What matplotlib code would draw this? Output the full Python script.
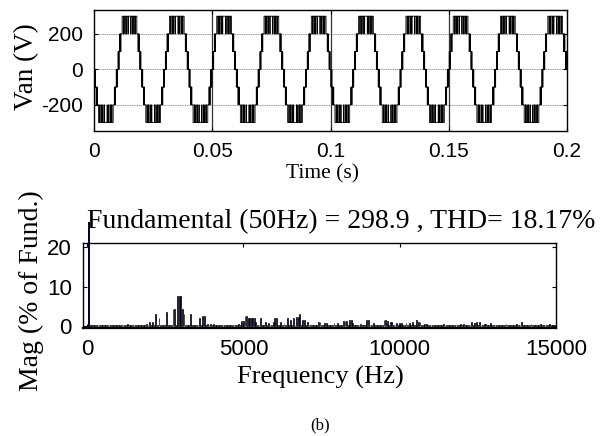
import numpy as np
import matplotlib
matplotlib.use("Agg")
import matplotlib.pyplot as plt
from matplotlib.patches import Rectangle

# ---------------- data ----------------
f0 = 50.0                      # fundamental frequency (Hz)
t_end = 0.2                    # simulated time (s)
# staircase/PWM switching pattern of the first quarter of a positive half cycle
# (edge angle in degrees, level in V after that edge), mirrored for the 2nd quarter
quarter_edges_deg = [0, 3, 5, 7, 9, 11, 16, 18, 21, 23, 25, 34, 43, 46, 55, 57, 67, 68.5, 79, 80]
quarter_levels_v  = [0, 100, 0, 100, 0, 100, 200, 100, 200, 100, 200, 300, 200, 300, 200, 300, 200, 300, 200, 300]

# harmonic spectrum (Hz, % of fundamental)
fund_freq = 50
fund_mag = 100.0
spec_freq = [1300, 1900, 2000, 2100, 2200, 2300, 2550, 2750, 2800, 2900, 2950, 3000, 3050, 3100,
             3300, 3600, 3700, 3750, 3850, 3950, 4050, 4850, 4950, 5000, 5050, 5100, 5150, 5200,
             5250, 5300, 5350, 5400, 5550, 5700, 5800, 5950, 6000, 6050, 6200, 6300, 6400, 6500,
             6600, 6700, 6750, 6800, 6900, 6950, 7050, 7400, 7450, 7600, 7650, 7900, 8000, 8200,
             8250, 8300, 8400, 8450, 8500, 8750, 8950, 9000, 9150, 9500, 9550, 9600, 9700, 9750,
             9900, 10000, 10050, 10200, 10300, 10400, 10550, 10600, 10650, 10800, 10850, 11400,
             11950, 12050, 12300, 12400, 12450, 12550, 12700, 12750, 12900, 13400, 13750, 13900,
             14200, 14500, 14800]
spec_mag  = [0.5, 0.5, 1.1, 1.0, 3.0, 2.0, 3.6, 4.5, 4.4, 7.6, 7.6, 7.6, 4.5, 3.1,
             3.1, 2.0, 2.6, 2.6, 0.6, 0.6, 0.5, 0.7, 1.3, 1.3, 2.6, 2.6, 2.0, 2.0,
             2.0, 2.0, 2.0, 1.0, 2.0, 1.0, 0.8, 1.0, 2.1, 2.1, 1.0, 0.7, 2.0, 1.5,
             2.0, 2.3, 2.3, 3.1, 1.5, 1.5, 1.0, 1.1, 1.1, 0.8, 0.8, 0.8, 0.8, 1.3,
             1.3, 1.3, 1.6, 1.6, 0.8, 0.5, 1.6, 1.6, 0.8, 1.7, 1.7, 1.4, 1.2, 1.2,
             0.8, 0.8, 0.8, 0.8, 0.8, 1.0, 1.6, 1.2, 1.2, 0.7, 0.7, 0.6,
             0.7, 0.7, 1.0, 0.9, 1.0, 1.2, 0.6, 0.6, 0.8, 0.6, 0.7, 1.2,
             0.6, 0.6, 0.5]
# low floor of the remaining harmonics read per band: (from Hz, to Hz, % of fund.)
floor_bands = [(100, 2000, 0.25), (2000, 15001, 0.45)]

title_txt = "Fundamental (50Hz) = 298.9 , THD= 18.17%"
top_xticks = [0, 0.05, 0.1, 0.15, 0.2]
top_xticklabels = ["0", "0.05", "0.1", "0.15", "0.2"]
top_yticks = [-200, 0, 200]
bot_xticks = [0, 5000, 10000, 15000]
bot_yticks = [0, 10, 20]

# ---------------- build waveform ----------------
edges = list(quarter_edges_deg)
levels = list(quarter_levels_v)
half_edges = edges + [180 - e for e in reversed(edges[1:])]
half_levels = levels + list(reversed(levels[:-1]))
period = 1.0 / f0
ncyc = int(round(t_end / period))
tt, vv = [], []
for k in range(ncyc):
    for sign, off in ((-1, 0.0), (1, 0.5)):
        for e, lv in zip(half_edges, half_levels):
            tt.append(k * period + off * period + e / 360.0 * period)
            vv.append(sign * lv)
tt.append(t_end)
vv.append(vv[-1])

# spectrum with floor
harm_freq = np.arange(100, 15001, 50)
harm_mag = np.zeros(len(harm_freq))
for a, b, lv in floor_bands:
    harm_mag[(harm_freq >= a) & (harm_freq < b)] = lv
for f, m in zip(spec_freq, spec_mag):
    harm_mag[harm_freq == f] = m

# ---------------- figure ----------------
W, H = 611, 436
fig = plt.figure(figsize=(W / 100, H / 100), dpi=100)
sans = "Liberation Sans"
serif = "Liberation Serif"

def fx(px):
    return px / W

def fy(py):
    return 1 - py / H

ax1 = fig.add_axes([fx(94), fy(131), fx(567 - 94), (131 - 10) / H])
ax1.step(tt, vv, where="post", color="black", lw=0.6)
ax1.set_xlim(0, t_end)
ax1.set_ylim(-348, 335)
for yv in top_yticks:
    ax1.axhline(yv, color="#9a9a9a", lw=0.8, ls=(0, (1, 0.6)), zorder=0)
for xv in top_xticks[1:-1]:
    ax1.axvline(xv, color="#333333", lw=0.9, zorder=0)
ax1.set_xticks(top_xticks)
ax1.set_xticklabels(top_xticklabels)
ax1.set_yticks(top_yticks)
ax1.set_yticklabels(["-200", "0", "200"])
ax1.tick_params(direction="in", length=3, width=0.8, top=True, right=True,
                labelsize=15, pad=8)
for lab in ax1.get_xticklabels() + ax1.get_yticklabels():
    lab.set_fontfamily(sans)
for s in ax1.spines.values():
    s.set_linewidth(1.0)
fig.text(fx(322), fy(174), "Time (s)", ha="center", va="center", fontsize=15.5, family=serif)
fig.text(fx(27), fy(67), "Van (V)", ha="center", va="center", rotation=90, fontsize=19.5, family=serif)

ax2 = fig.add_axes([fx(83), fy(328), fx(556 - 83), (328 - 243) / H])
ax2.set_xlim(-130, 15000)
ax2.set_ylim(-0.4, 21)
ax2.bar(harm_freq, harm_mag, width=28, color="#00005e", edgecolor="black", linewidth=0.5)
fb = ax2.bar([fund_freq], [fund_mag], width=50, color="#000066", edgecolor="#000033", linewidth=0.7)
clip = Rectangle((0, -0.05), 1, 1.30, transform=ax2.transAxes, facecolor="none", edgecolor="none")
ax2.add_patch(clip)
for p in fb:
    p.set_clip_path(clip)
ax2.set_xticks(bot_xticks)
ax2.set_yticks(bot_yticks)
ax2.tick_params(direction="in", length=3, width=0.8, top=True, right=True,
                labelsize=16, pad=8)
for lab in ax2.get_xticklabels() + ax2.get_yticklabels():
    lab.set_fontfamily(sans)
for s in ax2.spines.values():
    s.set_linewidth(1.0)
ax2.spines["bottom"].set_linewidth(1.6)
fig.text(fx(341), fy(222), title_txt, ha="center", va="center", fontsize=20, family=serif)
fig.text(fx(320), fy(377), "Frequency (Hz)", ha="center", va="center", fontsize=19, family=serif)
fig.text(fx(31), fy(291), "Mag (% of Fund.)", ha="center", va="center", rotation=90,
         fontsize=20, family=serif)
fig.text(fx(320), fy(425), "(b)", ha="center", va="center", fontsize=12, family=serif)

fig.savefig("out.png", dpi=100)
